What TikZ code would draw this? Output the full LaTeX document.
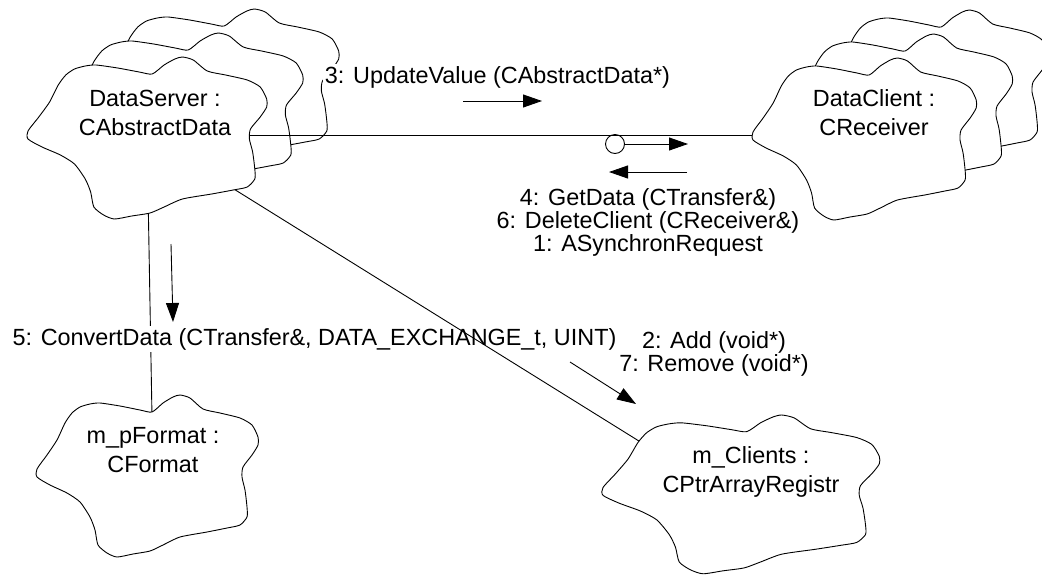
\documentclass[tikz,border=0pt]{standalone}
\usepackage{fontspec}
\setmainfont{Liberation Sans}
\usetikzlibrary{arrows.meta}
\tikzset{
  pics/cloud/.style 2 args={code={
    \draw[fill=white, xscale=#1, yscale=#2] plot[smooth cycle, tension=0.4] coordinates {
      (35,18) (43,12) (53,9) (63,8) (83,11) (103,15) (115,17) (126,8) (136,2) (143,0)
      (153,3) (166,14) (183,18) (203,23) (215,30) (221,42) (221,50) (215,60) (206,72)
      (205,82) (208,95) (210,112) (210,122) (203,130) (190,133) (170,137) (143,142)
      (126,150) (113,156) (96,159) (80,162) (70,158) (61,150) (58,135) (53,122) (43,107)
      (30,98) (13,90) (0,82) (0,74) (10,60) (20,45) (28,28)};
  }}
}
\begin{document}
\begin{tikzpicture}[x=1pt, y=-1pt, line width=0.9pt,
  objname/.style={font=\fontsize{23.4}{29}\selectfont, align=center, inner sep=0pt, anchor=north},
  msg/.style={font=\fontsize{23.4}{20}\selectfont, align=center, inner sep=0pt, anchor=north},
  lbl/.style={font=\fontsize{23.4}{20}\selectfont, fill=white, inner sep=2pt, anchor=base},
  flow/.style={-{Triangle[length=19pt, width=13pt]}}]
	\useasboundingbox (0,0) rectangle (1042,574);

	% stacked clouds behind
	\pic at (100,9) {cloud={1.08}{1}};
	\pic at (64,33) {cloud={1.08}{1}};
	\pic at (825,10) {cloud={1.01}{1}};
	\pic at (789,34) {cloud={1.01}{1}};

	% links
	\coordinate (server) at (147,135);
	\coordinate (client) at (865,135);
	\coordinate (format) at (153,473);
	\coordinate (clients) at (745,507);
	\draw (server) -- (format);
	\node[lbl] (convert) at (314.5,345) {5: ConvertData (CTransfer\&, DATA\_EXCHANGE\_t, UINT)};
	\draw (server) -- (clients);
	\draw (server) -- (client);

	% objects
	\pic at (28,57) {cloud={1.08}{1}};
	\pic at (753,58) {cloud={1.01}{1}};
	\pic at (37,395) {cloud={1}{1}};
	\pic at (603,415) {cloud={1.25}{0.98}};
	\node[objname] (serverName) at (155,89.5) {DataServer :\\CAbstractData};
	\node[objname] (clientName) at (874,89.5) {DataClient :\\CReceiver};
	\node[objname] (formatName) at (153,426.5) {m\_pFormat :\\CFormat};
	\node[objname] (clientsName) at (751,446.5) {m\_Clients :\\CPtrArrayRegistr};

	% messages
	\node[lbl] (update) at (497.5,83) {3: UpdateValue (CAbstractData*)};
	\node[msg] (getData) at (648,188.5) {4: GetData (CTransfer\&)\\6: DeleteClient (CReceiver\&)\\1: ASynchronRequest};
	\node[msg] (addRemove) at (714,331.5) {2: Add (void*)\\7: Remove (void*)};

	\coordinate (updA) at (463,101);
	\coordinate (updB) at (542,101);
	\coordinate (tokenEnd) at (688,144);
	\coordinate (getA) at (687,172);
	\coordinate (getB) at (609,172);
	\coordinate (cnvA) at (171,244);
	\coordinate (cnvB) at (173,322);
	\coordinate (addA) at (570,362);
	\coordinate (addB) at (636,404);
	\node[circle, draw, minimum size=19pt, inner sep=0pt] (token) at (615,144) {};
	\draw[flow] (updA) -- (updB);
	\draw[flow] (token.east) -- (tokenEnd);
	\draw[flow] (getA) -- (getB);
	\draw[flow] (cnvA) -- (cnvB);
	\draw[flow] (addA) -- (addB);
\end{tikzpicture}
\end{document}
